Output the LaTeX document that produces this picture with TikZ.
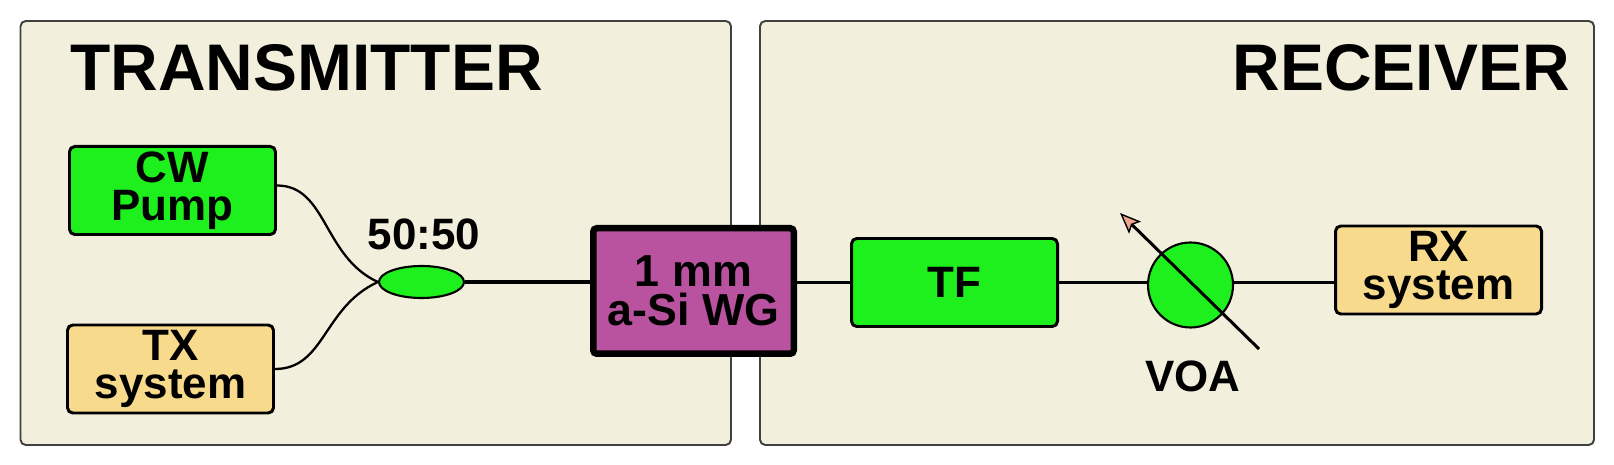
\documentclass[tikz,border=0pt]{standalone}
\usepackage{fontspec}
\setmainfont{Liberation Sans}
\usetikzlibrary{arrows.meta, shapes.geometric}
\definecolor{cPanel}{HTML}{F2EFDC}
\definecolor{cGreen}{HTML}{1EF01E}
\definecolor{cYellow}{HTML}{F8DA8C}
\definecolor{cPurple}{HTML}{B9529F}
\definecolor{cTip}{HTML}{EFA58E}

\begin{document}
\begin{tikzpicture}[
    x=1cm, y=1cm, font=\bfseries,
    panel/.style={draw=black!75, line width=1.1pt, rounded corners=3pt,
                  fill=cPanel},
    box/.style={draw=black, line width=1.7pt, rounded corners=3pt,
                minimum width=4.12cm, minimum height=1.76cm, inner sep=0pt,
                align=center, font=\fontsize{25}{21.5}\selectfont\bfseries},
    grn/.style={box, fill=cGreen},
    ylw/.style={box, fill=cYellow},
    wgbox/.style={box, fill=cPurple, line width=3.7pt, rounded corners=2pt,
                  minimum width=4.01cm, minimum height=2.51cm,
                  font=\fontsize{25.5}{22}\selectfont\bfseries},
    split/.style={ellipse, draw=black, line width=1.2pt, fill=cGreen,
                  minimum width=1.70cm, minimum height=0.64cm, inner sep=0pt},
    voa/.style={circle, draw=black, line width=1.2pt, fill=cGreen,
                minimum size=1.70cm, inner sep=0pt},
    title/.style={font=\fontsize{37.5}{40}\selectfont\bfseries, inner sep=0pt},
    lbl/.style={font=\fontsize{25}{28}\selectfont\bfseries, inner sep=0pt},
    fibre/.style={line width=2pt},
    pig/.style={line width=1.3pt},
    tune/.style={-{Stealth[length=0.42cm, width=0.34cm, inset=0.08cm,
                 fill=cTip, line width=0.8pt]}, line width=1.7pt},
]
\useasboundingbox (0,0) rectangle (32.28,9.3);

% ===========================================================================
% Paneles
% ===========================================================================
\draw[panel] (0.41,0.40) rectangle (14.62,8.88);
\draw[panel] (15.20,0.40) rectangle (31.88,8.88);

\node[title, anchor=base west] (txtitle) at (1.40,7.48) {TRANSMITTER};
\node[title, anchor=base east] (rxtitle) at (31.40,7.48) {RECEIVER};

% ----- transmisor -----
\node[grn] (cw) at (3.45,5.49) {CW\\Pump};
\node[ylw] (txs) at (3.41,1.92) {TX\\system};

\node[split] (bs) at (8.43,3.66) {};
\node[lbl] (ratio) at (8.48,4.62) {50:50};

\node[wgbox] (wg) at (13.87,3.48) {1 mm\\a-Si WG};

% ----- receptor -----
\node[grn] (tf) at (19.09,3.65) {TF};
\node[voa] (voa) at (23.81,3.60) {};
\node[lbl] (voalbl) at (23.86,1.78) {VOA};
\node[ylw] (rxs) at (28.77,3.90) {RX\\system};

% ===========================================================================
% Fibras
% ===========================================================================
\draw[pig] ([yshift=0.1cm]cw.east) .. controls +(1.0,0) and +(-1.1,0.5) .. (bs.west);
\draw[pig] (txs.east) .. controls +(1.0,0) and +(-1.1,-0.5) .. (bs.west);

\draw[fibre] (bs.east) -- (bs.east -| wg.west);
\draw[fibre] (wg.east |- tf.west) -- (tf.west);
\draw[fibre] (tf.east) -- (tf.east -| voa.west);
\draw[fibre] (voa.east |- tf.east) -- (tf.east -| rxs.west);

% ----- atenuador variable -----
\coordinate (voatail) at (25.18,2.32);
\coordinate (voatip) at (22.40,5.04);
\draw[tune] (voatail) -- (voatip);

\end{tikzpicture}
\end{document}
